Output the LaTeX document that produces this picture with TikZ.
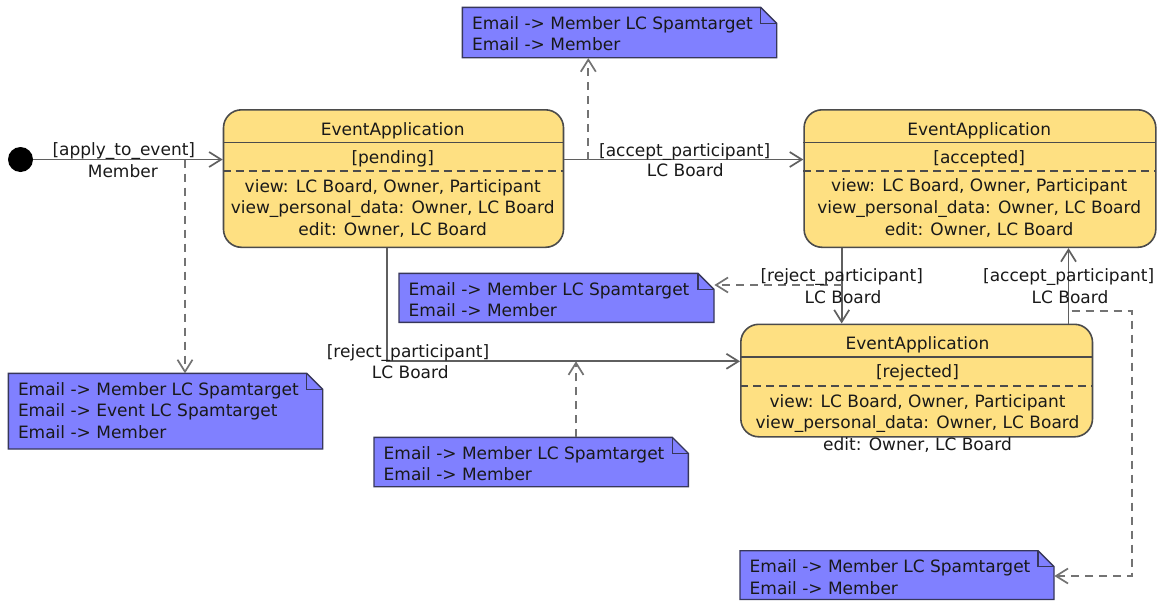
\documentclass[tikz,border=0pt]{standalone}
\usepackage{fontspec}
\setmainfont{DejaVu Sans}
\usetikzlibrary{arrows.meta}
\definecolor{statefill}{RGB}{254,224,130}
\definecolor{notefill}{RGB}{128,128,255}
\definecolor{bordercol}{RGB}{75,75,75}
\definecolor{noteborder}{RGB}{55,55,90}
\definecolor{linecol}{RGB}{95,95,95}
\definecolor{dashcol}{RGB}{115,115,115}
\definecolor{textcol}{RGB}{25,25,25}
\tikzset{
  statebox/.style={draw=bordercol, fill=statefill, rounded corners=18pt, line width=1.6pt, inner sep=0pt, anchor=north west},
  sep/.style={draw=bordercol, line width=1.6pt},
  sepdash/.style={draw=bordercol, line width=1.6pt, dash pattern=on 8pt off 5pt},
  txt/.style={anchor=base, inner sep=0pt, text=textcol},
  notetxt/.style={anchor=base west, inner sep=0pt, text=textcol},
  noteshape/.style={draw=noteborder, fill=notefill, line width=1.4pt, line join=miter},
  trans/.style={draw=linecol, line width=1.7pt, -{Straight Barb[length=12pt,width=15pt,line width=1.7pt]}},
  notelink/.style={draw=dashcol, line width=1.7pt, dash pattern=on 8pt off 6pt, -{Straight Barb[length=12pt,width=15pt,line width=1.7pt]}},
}
\newcommand\umlnote[6]{%
  \draw[noteshape] (#2,#3) -- (#4-16,#3) -- (#4,#3+16) -- (#4,#5) -- (#2,#5) -- cycle;
  \draw[noteshape, fill=none] (#4-16,#3) -- (#4-16,#3+16) -- (#4,#3+16);
  \node[inner sep=0pt, minimum width=#4-#2, minimum height=#5-#3, anchor=north west] (#1) at (#2,#3) {};
  \foreach \t [count=\i] in {#6} {\node[notetxt] at (#2+9.5, #3+22+21.5*\i-21.5) {\t};}
}
\begin{document}
\begin{tikzpicture}[x=1pt,y=-1pt, font=\fontsize{17}{21.5}\selectfont]
\useasboundingbox (0,0) rectangle (1159,600);

% initial state
\node[circle, fill=black, minimum size=25pt, inner sep=0pt] (dot) at (20.5,159.5) {};

% states
\node[statebox, minimum width=340pt, minimum height=137.5pt] (pend) at (222.7,109) {};
\draw[sep] (222.7,142.3) -- (562.7,142.3);
\draw[sepdash] (222.7,171) -- (562.7,171);
\node[txt] (pendT) at (392.7,135) {EventApplication};
\node[txt] (pendS) at (392.7,163.5) {[pending]};
\node[txt] (pendA) at (392.7,192) {view: LC Board, Owner, Participant};
\node[txt] (pendB) at (392.7,213.5) {view\_personal\_data: Owner, LC Board};
\node[txt] (pendC) at (392.7,235) {edit: Owner, LC Board};

\node[statebox, minimum width=351.7pt, minimum height=137.5pt] (acc) at (803.3,109) {};
\draw[sep] (803.3,142.3) -- (1156,142.3);
\draw[sepdash] (803.3,170.7) -- (1156,170.7);
\node[txt] (accT) at (979.2,135) {EventApplication};
\node[txt] (accS) at (979.2,163.3) {[accepted]};
\node[txt] (accA) at (979.2,191.7) {view: LC Board, Owner, Participant};
\node[txt] (accB) at (979.2,213.3) {view\_personal\_data: Owner, LC Board};
\node[txt] (accC) at (979.2,235) {edit: Owner, LC Board};

\node[statebox, minimum width=351.7pt, minimum height=112.5pt] (rej) at (740,323.5) {};
\draw[sep] (740,356.7) -- (1093,356.7);
\draw[sepdash] (740,385.7) -- (1093,385.7);
\node[txt] (rejT) at (917.5,349.3) {EventApplication};
\node[txt] (rejS) at (917.5,377.3) {[rejected]};
\node[txt] (rejA) at (917.5,407.3) {view: LC Board, Owner, Participant};
\node[txt] (rejB) at (917.5,428.3) {view\_personal\_data: Owner, LC Board};
\node[txt] (rejC) at (917.5,450) {edit: Owner, LC Board};

% notes
\umlnote{n1}{462.3}{7.3}{776.7}{57.7}{Email -> Member LC Spamtarget, Email -> Member}
\umlnote{n2}{399}{273.3}{714}{322.3}{Email -> Member LC Spamtarget, Email -> Member}
\umlnote{n3}{8.3}{373.3}{322.7}{449}{Email -> Member LC Spamtarget, Email -> Event LC Spamtarget, Email -> Member}
\umlnote{n4}{374}{437.3}{688.3}{486.7}{Email -> Member LC Spamtarget, Email -> Member}
\umlnote{n5}{740}{550.7}{1054}{599.5}{Email -> Member LC Spamtarget, Email -> Member}

% helper coordinates
\coordinate (c1) at (588.3,159.5);
\coordinate (c2) at (185,159.5);
\coordinate (b1) at (387.3,361.3);
\coordinate (c3) at (576,361.3);
\coordinate (c4) at (841.7,285);
\coordinate (c5) at (1068.5,310.7);
\coordinate (c5b) at (1071.7,310.7);
\coordinate (c6) at (1131.7,310.7);
\coordinate (c7) at (1131.7,576);

% transitions
\draw[trans] (dot.east) -- (pend.west |- dot);
\draw[trans] (pend.east |- dot) -- (acc.west |- dot);
\draw[trans] (pend.south -| b1) -- (b1) -- (rej.west |- b1);
\draw[trans] (acc.south -| c4) -- (rej.north -| c4);
\draw[trans] (rej.north -| c5) -- (acc.south -| c5);

% note links
\draw[notelink] (c1) -- (n1.south -| c1);
\draw[notelink] (c2) -- (n3.north -| c2);
\draw[notelink] (n4.north -| c3) -- (c3);
\draw[notelink] (c4) -- (n2.east |- c4);
\draw[notelink] (c5b) -- (c6) -- (c7) -- (n5.east |- c7);

% transition labels
\node[txt] (l1a) at (123.8,155) {[apply\_to\_event]};
\node[txt] (l1b) at (122.8,177.3) {Member};
\node[txt] (l2a) at (684.7,156) {[accept\_participant]};
\node[txt] (l2b) at (685.3,176.7) {LC Board};
\node[txt] (l3a) at (408,357.3) {[reject\_participant]};
\node[txt] (l3b) at (410.3,378.3) {LC Board};
\node[txt] (l4a) at (841.7,281.7) {[reject\_participant]};
\node[txt] (l4b) at (843,303.3) {LC Board};
\node[txt] (l5a) at (1068.7,281.7) {[accept\_participant]};
\node[txt] (l5b) at (1070,303.3) {LC Board};
\end{tikzpicture}
\end{document}
